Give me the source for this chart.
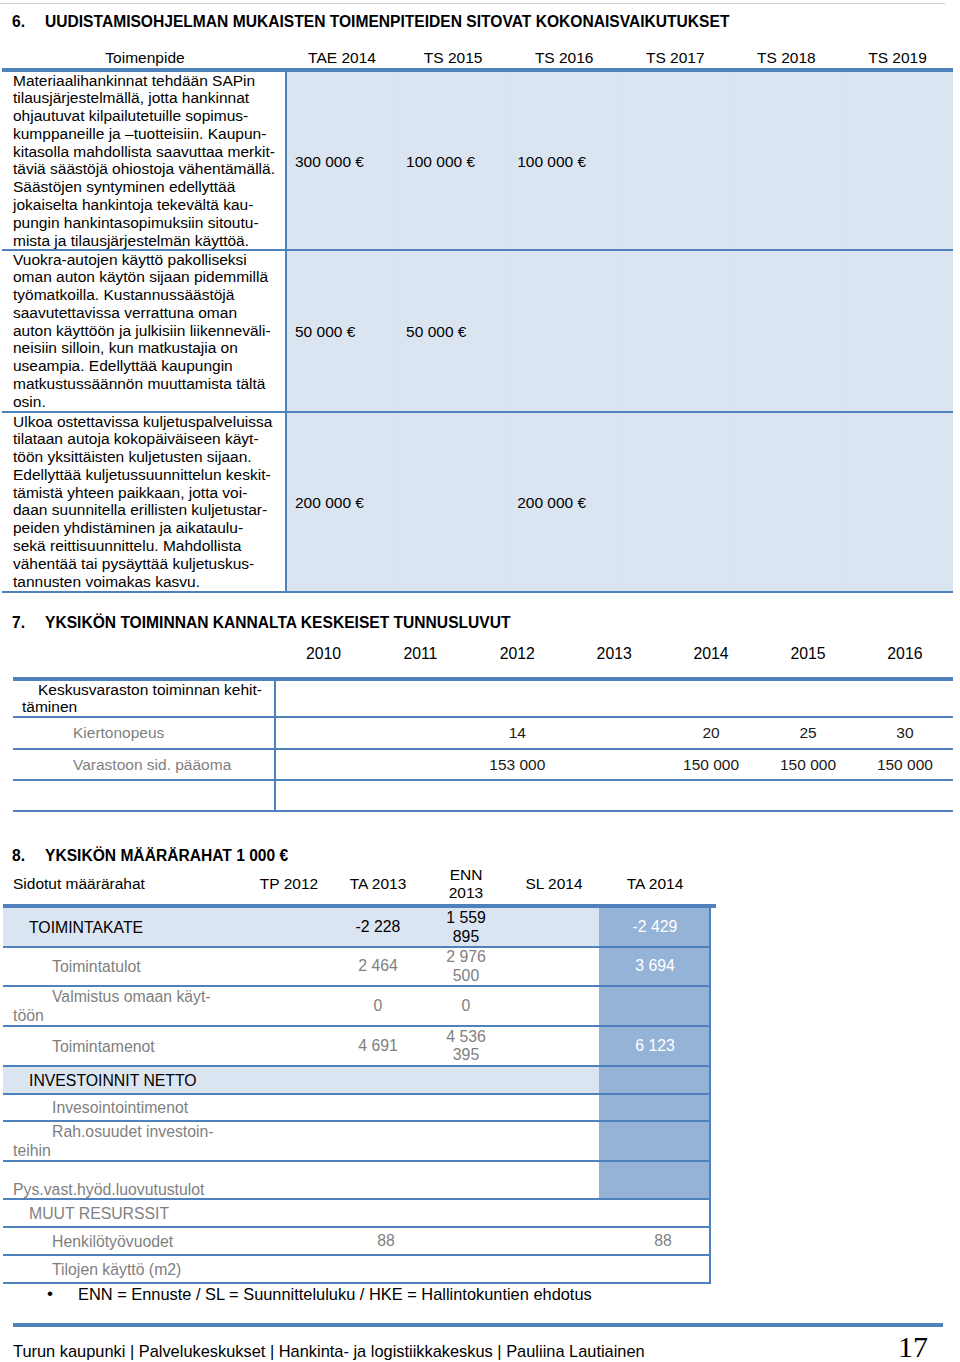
<!DOCTYPE html>
<html>
<head>
<meta charset="utf-8">
<script src="https://cdn.jsdelivr.net/npm/chart.js@4.4.0/dist/chart.umd.min.js"></script>
<style>
  body { margin: 0; width: 960px; height: 1362px; position: relative; overflow: hidden;
         background: #fff; font-family: "Liberation Sans", Arial, sans-serif; color: #000; }
  .a { position: absolute; white-space: pre; font-size: 15.5px; line-height: 18px; }
  .r { position: absolute; }
</style>
</head>
<body>
<script>
// --- page data ---
const sec6Title = "UUDISTAMISOHJELMAN MUKAISTEN TOIMENPITEIDEN SITOVAT KOKONAISVAIKUTUKSET";
const t6Head = "Toimenpide";
const t6Years = ["TAE 2014", "TS 2015", "TS 2016", "TS 2017", "TS 2018", "TS 2019"];
const t6Measures = [
  "Materiaalihankinnat tehdään SAPin\ntilausjärjestelmällä, jotta hankinnat\nohjautuvat kilpailutetuille sopimus-\nkumppaneille ja –tuotteisiin. Kaupun-\nkitasolla mahdollista saavuttaa merkit-\ntäviä säästöjä ohiostoja vähentämällä.\nSäästöjen syntyminen edellyttää\njokaiselta hankintoja tekevältä kau-\npungin hankintasopimuksiin sitoutu-\nmista ja tilausjärjestelmän käyttöä.",
  "Vuokra-autojen käyttö pakolliseksi\noman auton käytön sijaan pidemmillä\ntyömatkoilla. Kustannussäästöjä\nsaavutettavissa verrattuna oman\nauton käyttöön ja julkisiin liikenneväli-\nneisiin silloin, kun matkustajia on\nuseampia. Edellyttää kaupungin\nmatkustussäännön muuttamista tältä\nosin.",
  "Ulkoa ostettavissa kuljetuspalveluissa\ntilataan autoja kokopäiväiseen käyt-\ntöön yksittäisten kuljetusten sijaan.\nEdellyttää kuljetussuunnittelun keskit-\ntämistä yhteen paikkaan, jotta voi-\ndaan suunnitella erillisten kuljetustar-\npeiden yhdistäminen ja aikataulu-\nsekä reittisuunnittelu. Mahdollista\nvähentää tai pysäyttää kuljetuskus-\ntannusten voimakas kasvu."
];
const t6Savings = [
  [300000, 100000, 100000, null, null, null],
  [50000, 50000, null, null, null, null],
  [200000, null, 200000, null, null, null]
];

const sec7Title = "YKSIKÖN TOIMINNAN KANNALTA KESKEISET TUNNUSLUVUT";
const t7Years = ["2010", "2011", "2012", "2013", "2014", "2015", "2016"];
const t7Group = "Keskusvaraston toiminnan kehit-\ntäminen";
const t7Labels = ["Kiertonopeus", "Varastoon sid. pääoma"];
const kiertonopeus = [null, null, 14, null, 20, 25, 30];
const varastoPaaoma = [null, null, 153000, null, 150000, 150000, 150000];

const sec8Title = "YKSIKÖN MÄÄRÄRAHAT 1 000 €";
const t8Head = "Sidotut määrärahat";
const t8Columns = ["TP 2012", "TA 2013", "ENN 2013", "SL 2014", "TA 2014"];
const t8Labels = ["TOIMINTAKATE", "Toimintatulot", "Valmistus omaan käyt-\ntöön", "Toimintamenot",
  "INVESTOINNIT NETTO", "Invesointointimenot", "Rah.osuudet investoin-\nteihin",
  "\nPys.vast.hyöd.luovutustulot", "MUUT RESURSSIT", "Henkilötyövuodet", "Tilojen käyttö (m2)"];
const tp2012 = [null, null, null, null, null, null, null, null, null, null, null];
const ta2013 = [-2228, 2464, 0, 4691, null, null, null, null, null, 88, null];
const enn2013 = [1559895, 2976500, 0, 4536395, null, null, null, null, null, null, null];
const sl2014 = [null, null, null, null, null, null, null, null, null, null, null];
const ta2014 = [-2429, 3694, null, 6123, null, null, null, null, null, 88, null];
const t8Note = "ENN = Ennuste / SL = Suunnitteluluku / HKE = Hallintokuntien ehdotus";
const footerText = "Turun kaupunki | Palvelukeskukset | Hankinta- ja logistiikkakeskus | Pauliina Lautiainen";
const pageNo = "17";

// --- layout ---
const BLUE = "#4f81bd", LIGHT = "#dbe5f1", MID = "#95b3d7", GREY = "#7f7f7f";

function fmt(n) {
  if (n === null) return "";
  const s = String(Math.abs(n)).replace(/\B(?=(\d{3})+(?!\d))/g, " ");
  return (n < 0 ? "-" : "") + s;
}

// put text; y is the vertical centre of the text block
function put(x, y, text, o = {}) {
  const d = document.createElement("div");
  d.className = "a";
  d.textContent = text;
  const lh = o.lh || 18;
  d.style.lineHeight = lh + "px";
  if (o.size) d.style.fontSize = o.size + "px";
  if (o.bold) d.style.fontWeight = "bold";
  if (o.color) d.style.color = o.color;
  if (o.family) d.style.fontFamily = o.family;
  if (o.width) { d.style.width = o.width + "px"; d.style.whiteSpace = "normal"; }
  const lines = o.lines || text.split("\n").length;
  d.style.top = (y - lines * lh / 2) + "px";
  if (o.align === "center") {
    d.style.textAlign = "center";
    if (o.width) d.style.left = (x - o.width / 2) + "px";
    else { d.style.left = x + "px"; d.style.transform = "translateX(-50%)"; }
  } else {
    d.style.left = x + "px";
  }
  document.body.appendChild(d);
  return d;
}

function rect(x, y, w, h, color) {
  const d = document.createElement("div");
  d.className = "r";
  Object.assign(d.style, { left: x + "px", top: y + "px", width: w + "px", height: h + "px", background: color });
  document.body.appendChild(d);
}

// top rule
rect(0, 3, 945, 1, "#cfcfcf");

// ===== 6 =====
put(12, 22, "6.", { bold: true, size: 15.6 });
put(45, 22, sec6Title, { bold: true, size: 15.6 });
put(145, 58, t6Head, { align: "center" });
const c6Left = 287, c6W = 111.1;
t6Years.forEach((y, i) => put(c6Left + i * c6W + 55, 58, y, { align: "center" }));
const r6 = [72, 251, 413, 593];
rect(c6Left, 72, 953 - c6Left, 520, LIGHT);
for (let i = 1; i < t6Years.length; i++) rect(c6Left + i * c6W - 1, 72, 1, 520, "#d7e1f0");
rect(2, 68, 951, 4, BLUE);
rect(285, 72, 2, 520, BLUE);
t6Measures.forEach((txt, r) => {
  put(13, r6[r] + txt.split("\n").length * 17.8 / 2 - 0.5, txt, { lh: 17.8 });
  const mid = (r6[r] + r6[r + 1]) / 2;
  t6Savings[r].forEach((v, i) => {
    if (v !== null) put(c6Left + i * c6W + 8, mid, fmt(v) + " €");
  });
  rect(2, r6[r + 1] - 2, 951, 2, BLUE);
});

// ===== 7 =====
put(12, 623, "7.", { bold: true, size: 15.6 });
put(45, 623, sec7Title, { bold: true, size: 15.6 });
const c7Left = 275, c7W = 96.9;
t7Years.forEach((y, i) => put(c7Left + i * c7W + 48.5, 654, y, { align: "center", size: 15.8 }));
rect(13, 677, 940, 4, BLUE);
rect(274, 681, 2, 130, BLUE);
const r7 = [681, 717, 749, 780, 811];
r7.slice(1).forEach(y => rect(13, y - 1, 940, 2, BLUE));
put(38, 690, t7Group.split("\n")[0]);
put(22, 707, t7Group.split("\n")[1]);
[kiertonopeus, varastoPaaoma].forEach((arr, r) => {
  const mid = (r7[r + 1] + r7[r + 2]) / 2;
  put(73, mid, t7Labels[r], { color: GREY });
  arr.forEach((v, i) => { if (v !== null) put(c7Left + i * c7W + 48.5, mid, fmt(v), { align: "center", color: "#1a1a1a" }); });
});

// ===== 8 =====
put(12, 856, "8.", { bold: true, size: 15.6 });
put(45, 856, sec8Title, { bold: true, size: 15.6 });
put(13, 884, t8Head);
const c8 = [289, 378, 466, 554, 655];
t8Columns.forEach((c, i) => put(c8[i], 884, c, { align: "center", width: i === 2 ? 50 : 80, lines: i === 2 ? 2 : 1 }));

const r8 = [908, 947, 986, 1026, 1066, 1094, 1121, 1161, 1199, 1227, 1255, 1283];
const t8Kind = ["main", "sub", "sub", "sub", "main", "sub", "sub", "flush", "muut", "sub", "sub"];
rect(3, r8[0], 596, r8[1] - r8[0], LIGHT);
rect(3, r8[4], 596, r8[5] - r8[4], LIGHT);
rect(599, r8[0], 112, r8[8] - r8[0], MID);
rect(3, 904, 713, 4, BLUE);
r8.slice(1).forEach(y => rect(3, y - 1, 708, 2, BLUE));
rect(709, 904, 2, 380, BLUE);

const cols8 = [tp2012, ta2013, enn2013, sl2014, ta2014];
t8Labels.forEach((lab, r) => {
  const mid = (r8[r] + r8[r + 1]) / 2;
  const kind = t8Kind[r];
  const color = kind === "main" ? "#000" : GREY;
  const parts = lab.split("\n");
  const lh = 19;
  const top = mid - parts.length * lh / 2 + lh / 2;
  parts.forEach((p, k) => {
    let x = 13;
    if (k === 0) x = kind === "main" || kind === "muut" ? 29 : (kind === "flush" ? 13 : 52);
    if (p) put(x, top + k * lh, p, { color, lh, size: 15.8 });
  });
  cols8.forEach((arr, i) => {
    const v = arr[r];
    if (v === null) return;
    const off = r === 9 ? 8 : 0;
    put(c8[i] + off, mid, fmt(v), {
      align: "center", width: i === 2 ? 50 : 90, lh: 18.5, size: 15.8,
      lines: fmt(v).length > 5 && i === 2 ? 2 : 1,
      color: i === 4 && r < 8 ? "#fff" : color
    });
  });
});

put(47, 1294, "•", { size: 17 });
put(78, 1294, t8Note, { size: 16.4 });

// footer
rect(13, 1323, 930, 4, BLUE);
put(13, 1351, footerText, { size: 16.4 });
put(898, 1347, pageNo, { family: "'Liberation Serif', 'DejaVu Serif', serif", size: 30, lh: 30 });
</script>
</body>
</html>
